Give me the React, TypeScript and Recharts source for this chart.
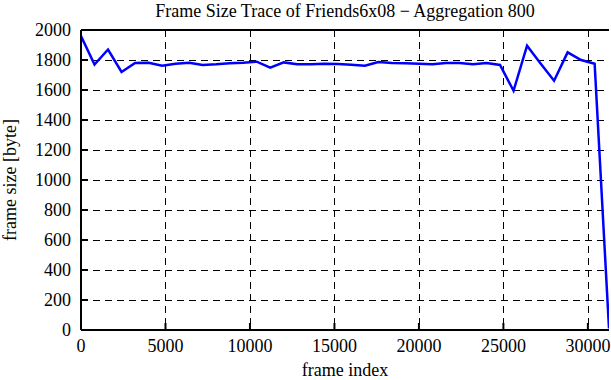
import React from 'react';
import {
  LineChart,
  Line,
  XAxis,
  YAxis,
  CartesianGrid,
  Label
} from 'recharts';

const frameIndex = [
  0, 800, 1600, 2400, 3200, 4000, 4800, 5600, 6400, 7200, 8000, 8800, 9600,
  10400, 11200, 12000, 12800, 13600, 14400, 15200, 16000, 16800, 17600, 18400,
  19200, 20000, 20800, 21600, 22400, 23200, 24000, 24800, 25600, 26400, 27200,
  28000, 28800, 29600, 30400, 31250
];

const frameSize = [
  1960, 1770, 1870, 1720, 1780, 1782, 1762, 1775, 1782, 1767, 1771, 1778, 1782,
  1789, 1749, 1784, 1771, 1771, 1775, 1773, 1769, 1762, 1787, 1780, 1778, 1775,
  1771, 1780, 1780, 1771, 1780, 1767, 1595, 1895, 1776, 1662, 1851, 1800, 1775,
  10
];

const xTicks = [0, 5000, 10000, 15000, 20000, 25000, 30000];
const yTicks = [0, 200, 400, 600, 800, 1000, 1200, 1400, 1600, 1800, 2000];
const xMax = 31250;
const yMax = 2000;

const chartData = frameIndex.map((x, i) => ({ x, size: frameSize[i] }));

const font = "'Liberation Serif', 'DejaVu Serif', serif";
const fontSize = 18;
const frameLine = { stroke: '#000', strokeWidth: 2 };

const XTick = ({ x, y, payload }: any) => (
  <text x={x} y={y} dy="0.71em" textAnchor="middle" fill="#000" fontSize={fontSize} fontFamily={font}>
    {payload.value}
  </text>
);

const YTick = ({ x, y, payload }: any) => (
  <text x={x} y={y} dy="0.35em" textAnchor="end" fill="#000" fontSize={fontSize} fontFamily={font}>
    {payload.value}
  </text>
);

export default function App() {
  return (
    <div
      style={{
        position: 'absolute',
        left: 0,
        top: 0,
        width: 611,
        height: 380,
        background: '#fff',
        fontFamily: font
      }}
    >
      <div
        style={{
          position: 'absolute',
          left: 81,
          width: 528,
          top: 0,
          textAlign: 'center',
          fontSize,
          lineHeight: '22px'
        }}
      >
        Frame Size Trace of Friends6x08 − Aggregation 800
      </div>
      <LineChart
        width={611}
        height={380}
        data={chartData}
        margin={{ top: 0, right: 2, left: 0, bottom: 20 }}
        style={{ fontFamily: font }}
      >
        <CartesianGrid
          stroke="#000"
          strokeDasharray="7 5"
          horizontalCoordinatesGenerator={({ offset }: any) =>
            yTicks.slice(1, -1).map((v) => Math.round(offset.top + offset.height * (1 - v / yMax)) + 0.5)
          }
          verticalCoordinatesGenerator={({ offset }: any) =>
            xTicks.slice(1).map((v) => Math.round(offset.left + (offset.width * v) / xMax) + 0.5)
          }
        />
        <XAxis
          dataKey="x"
          type="number"
          domain={[0, xMax]}
          ticks={xTicks}
          allowDataOverflow
          height={30}
          tickSize={-7}
          tickMargin={16}
          tick={<XTick />}
          axisLine={frameLine}
          tickLine={frameLine}
        >
          <Label
            value="frame index"
            position="bottom"
            offset={3}
            style={{ fontSize, fill: '#000', fontFamily: font }}
          />
        </XAxis>
        <XAxis
          xAxisId="top"
          dataKey="x"
          type="number"
          orientation="top"
          domain={[0, xMax]}
          ticks={xTicks}
          allowDataOverflow
          height={30}
          tickSize={-7}
          tick={false}
          axisLine={frameLine}
          tickLine={frameLine}
        />
        <YAxis
          type="number"
          domain={[0, yMax]}
          ticks={yTicks}
          width={81}
          tickSize={-7}
          tickMargin={17}
          tick={<YTick />}
          axisLine={frameLine}
          tickLine={frameLine}
        >
          <Label
            value="frame size [byte]"
            angle={-90}
            position="insideLeft"
            offset={10}
            style={{ fontSize, fill: '#000', fontFamily: font, textAnchor: 'middle' }}
          />
        </YAxis>
        <YAxis
          yAxisId="right"
          orientation="right"
          type="number"
          domain={[0, yMax]}
          ticks={yTicks}
          width={0}
          tickSize={-7}
          tick={false}
          axisLine={frameLine}
          tickLine={frameLine}
        />
        <Line
          type="linear"
          dataKey="size"
          stroke="#0000ff"
          strokeWidth={2.5}
          dot={false}
          isAnimationActive={false}
        />
      </LineChart>
    </div>
  );
}
